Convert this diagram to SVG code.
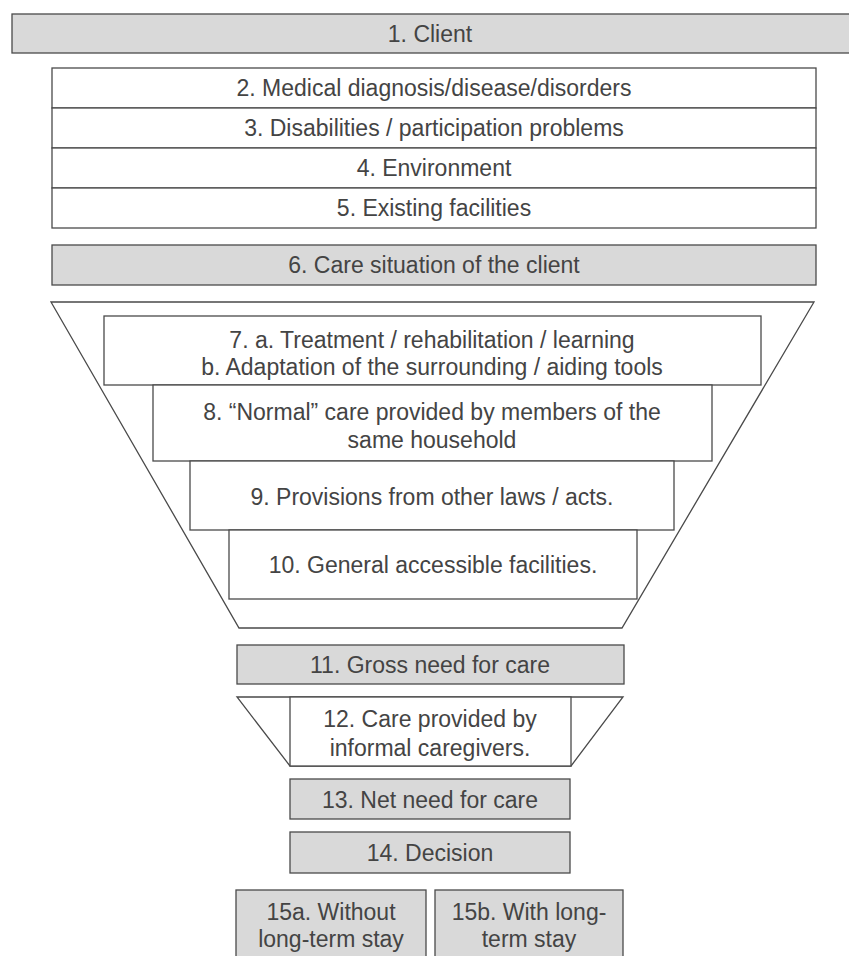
<svg xmlns="http://www.w3.org/2000/svg" width="849" height="956" viewBox="0 0 849 956">
<style>
.box{fill:#ffffff;stroke:#4a4a4a;stroke-width:1.3}
.grey{fill:#d9d9d9;stroke:#4a4a4a;stroke-width:1.3}
.fun{fill:#ffffff;stroke:#4a4a4a;stroke-width:1.3;stroke-linejoin:miter}
.line{stroke:#4a4a4a;stroke-width:1.3}
text{font-family:"Liberation Sans",Arial,sans-serif;font-size:23px;fill:#444444;text-anchor:middle}
</style>
<rect width="849" height="956" fill="#ffffff"/>
<g id="funnels">
<polygon class="fun" points="51,302 814,302 622,628 239,628"/>
<polygon class="fun" points="237,697 623,697 571,766 290,766"/>
</g>
<g id="connectors"></g>
<g id="n1"><rect class="grey" x="12" y="14" width="842" height="39"/><text x="430" y="42">1. Client</text></g>
<g id="n2"><rect class="box" x="52" y="68" width="764" height="40"/><text x="434" y="96">2. Medical diagnosis/disease/disorders</text></g>
<g id="n3"><rect class="box" x="52" y="108" width="764" height="40"/><text x="434" y="136">3. Disabilities / participation problems</text></g>
<g id="n4"><rect class="box" x="52" y="148" width="764" height="40"/><text x="434" y="176">4. Environment</text></g>
<g id="n5"><rect class="box" x="52" y="188" width="764" height="40"/><text x="434" y="216">5. Existing facilities</text></g>
<g id="n6"><rect class="grey" x="52" y="245" width="764" height="40"/><text x="434" y="273">6. Care situation of the client</text></g>
<g id="n7"><rect class="box" x="104" y="316" width="657" height="69"/><text x="432" y="348">7. a. Treatment / rehabilitation / learning</text><text x="432" y="375">b. Adaptation of the surrounding / aiding tools</text></g>
<g id="n8"><rect class="box" x="153" y="385" width="559" height="76"/><text x="432" y="420">8. “Normal” care provided by members of the</text><text x="432" y="448">same household</text></g>
<g id="n9"><rect class="box" x="190" y="461" width="484" height="69"/><text x="432" y="505">9. Provisions from other laws / acts.</text></g>
<g id="n10"><rect class="box" x="229" y="530" width="408" height="69"/><text x="433" y="573">10. General accessible facilities.</text></g>
<g id="n11"><rect class="grey" x="237" y="645" width="387" height="39"/><text x="430" y="673">11. Gross need for care</text></g>
<g id="n12"><rect class="box" x="290" y="697" width="281" height="69"/><text x="430" y="727">12. Care provided by</text><text x="430" y="756">informal caregivers.</text></g>
<g id="n13"><rect class="grey" x="290" y="779" width="280" height="40"/><text x="430" y="808">13. Net need for care</text></g>
<g id="n14"><rect class="grey" x="290" y="832" width="280" height="41"/><text x="430" y="861">14. Decision</text></g>
<g id="n15a"><rect class="grey" x="236" y="890" width="190" height="72"/><text x="331" y="920">15a. Without</text><text x="331" y="947">long-term stay</text></g>
<g id="n15b"><rect class="grey" x="435" y="890" width="188" height="72"/><text x="529" y="920">15b. With long-</text><text x="529" y="947">term stay</text></g>
</svg>
